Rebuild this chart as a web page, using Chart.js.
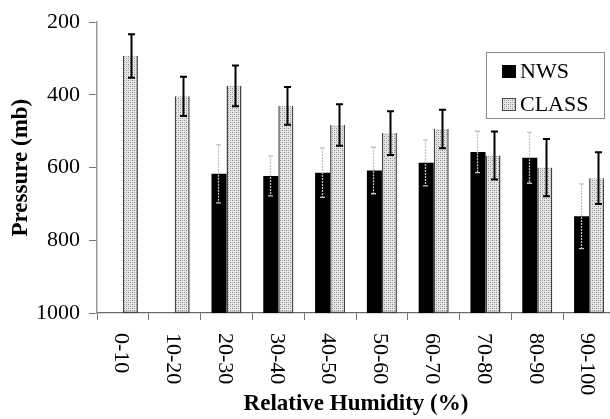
<!DOCTYPE html>
<html><head><meta charset="utf-8">
<script src="https://cdn.jsdelivr.net/npm/chart.js@4"></script>
<style>html,body{margin:0;padding:0;background:#fff;overflow:hidden}#wrap{width:615px;height:419px}</style>
</head><body><div id="wrap"><canvas id="c" width="615" height="419"></canvas></div>
<script>
const categories = ['0-10','10-20','20-30','30-40','40-50','50-60','60-70','70-80','80-90','90-100'];
const nwsValues   = [null, null, 617, 623, 614, 608, 587, 557, 573, 734];
const nwsErrors   = [null, null,  80,  55,  68,  64,  63,  57,  70,  89];
const classValues = [293, 404, 375, 430, 483, 505, 494, 567, 600, 629];
const classErrors = [ 60,  54,  56,  52,  57,  60,  53,  66,  79,  71];
const yTicks = [200, 400, 600, 800, 1000];
const axisBase = 1000;

const SERIF = '"Liberation Serif", "Times New Roman", serif';
const canvas = document.getElementById('c');
const ctx0 = canvas.getContext('2d');

function stipple() {
  const p = document.createElement('canvas'); p.width = 4; p.height = 4;
  const g = p.getContext('2d');
  g.fillStyle = '#e6e6e6'; g.fillRect(0, 0, 4, 4);
  g.fillStyle = '#858585'; g.fillRect(0, 0, 1, 1); g.fillRect(2, 2, 1, 1);
  g.fillStyle = '#b8b8b8'; g.fillRect(2, 0, 1, 1); g.fillRect(0, 2, 1, 1);
  return ctx0.createPattern(p, 'repeat');
}
const classFill = stipple();

const floating = arr => arr.map(v => v == null ? null : [axisBase, v]);

const overlay = {
  id: 'overlay',
  afterDatasetsDraw(chart) {
    const ctx = chart.ctx, ys = chart.scales.y;
    const specs = [
      {idx: 0, vals: nwsValues, errs: nwsErrors, color: '#c4c4c4', w: 1.3, cap: 2.5, dash: [2, 1], dx: -1},
      {idx: 1, vals: classValues, errs: classErrors, color: '#000', w: 2, cap: 3.5, dash: [], dx: 1}
    ];
    ctx.save();
    specs.forEach(s => {
      const meta = chart.getDatasetMeta(s.idx);
      meta.data.forEach((bar, i) => {
        const v = s.vals[i], e = s.errs[i];
        if (v == null || e == null) return;
        const x = Math.round(bar.x + s.dx) + 0.5;
        const y1 = ys.getPixelForValue(v - e), y2 = ys.getPixelForValue(v + e);
        ctx.strokeStyle = s.color; ctx.lineWidth = s.w;
        ctx.setLineDash(s.dash);
        ctx.beginPath(); ctx.moveTo(x, y1); ctx.lineTo(x, y2); ctx.stroke();
        ctx.setLineDash([]);
        ctx.beginPath();
        ctx.moveTo(x - s.cap, y1); ctx.lineTo(x + s.cap, y1);
        ctx.moveTo(x - s.cap, y2); ctx.lineTo(x + s.cap, y2);
        ctx.stroke();
      });
    });
    ctx.restore();
  },
  afterDraw(chart) {
    const ctx = chart.ctx, xs = chart.scales.x;
    ctx.save();
    ctx.fillStyle = '#000';
    ctx.font = '22px ' + SERIF;
    ctx.textAlign = 'left'; ctx.textBaseline = 'middle';
    categories.forEach((lab, i) => {
      const x = xs.getPixelForValue(i) - 2;
      ctx.save(); ctx.translate(x, 333); ctx.rotate(Math.PI / 2);
      ctx.fillText(lab, 0, 0); ctx.restore();
    });
    ctx.strokeStyle = '#8a8a8a'; ctx.lineWidth = 1;
    ctx.strokeRect(486.5, 52.5, 118, 66);
    const ds = chart.data.datasets;
    ctx.fillStyle = '#000'; ctx.fillRect(502, 65, 14, 13);
    ctx.fillStyle = classFill; ctx.fillRect(502, 98, 14, 13);
    ctx.strokeStyle = '#444'; ctx.strokeRect(502.5, 98.5, 13, 12);
    ctx.fillStyle = '#000'; ctx.font = '22px ' + SERIF;
    ctx.textAlign = 'left'; ctx.textBaseline = 'middle';
    ctx.fillText(ds[0].label, 520, 72);
    ctx.fillText(ds[1].label, 520, 105);
    ctx.restore();
  }
};

new Chart(canvas, {
  type: 'bar',
  data: {
    labels: categories,
    datasets: [
      {label: 'NWS', data: floating(nwsValues), backgroundColor: '#000', borderWidth: 0},
      {label: 'CLASS', data: floating(classValues), backgroundColor: classFill, borderColor: '#444', borderWidth: 1.5}
    ]
  },
  options: {
    responsive: false,
    animation: false,
    layout: {padding: {top: 20, left: 0, right: 0, bottom: 0}},
    datasets: {bar: {categoryPercentage: 0.58, barPercentage: 1.0}},
    plugins: {legend: {display: false}, tooltip: {enabled: false}},
    scales: {
      x: {
        offset: true,
        grid: {display: true, drawOnChartArea: false, drawTicks: true, tickLength: 7, color: '#777', offset: true},
        border: {display: true, color: '#6a6a6a', width: 1.2},
        ticks: {display: false},
        title: {display: true, text: 'Relative Humidity (%)', color: '#000',
                font: {family: SERIF, size: 23, weight: 'bold'}, padding: {top: 0, bottom: 1}},
        afterFit(scale) { scale.height = 106; }
      },
      y: {
        reverse: true, min: 200, max: 1000,
        afterBuildTicks(scale) { scale.ticks = yTicks.map(v => ({value: v})); },
        grid: {display: true, drawOnChartArea: false, drawTicks: true, tickLength: 8, color: '#777'},
        border: {display: true, color: '#9a9a9a', width: 1.5},
        ticks: {color: '#000', padding: 9, font: {family: SERIF, size: 22}, callback: v => String(v)},
        title: {display: true, text: 'Pressure (mb)', color: '#000',
                font: {family: SERIF, size: 23, weight: 'bold'}, padding: {top: 7, bottom: 0}},
        afterFit(scale) { scale.width = 97; }
      }
    }
  },
  plugins: [overlay]
});
</script>
</body></html>
